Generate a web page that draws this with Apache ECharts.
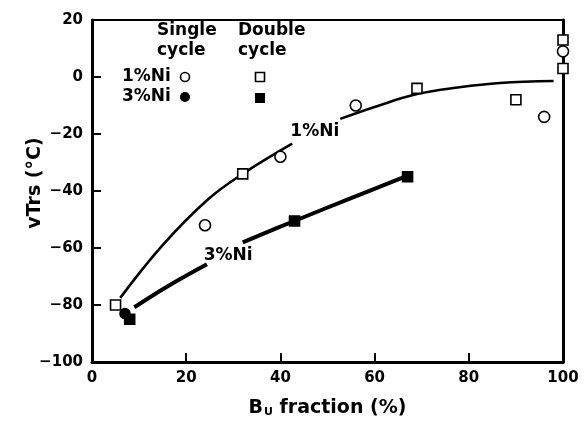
<!DOCTYPE html>
<html>
<head>
<meta charset="utf-8">
<script src="https://cdn.jsdelivr.net/npm/echarts@6/dist/echarts.min.js"></script>
<style>html,body{margin:0;background:#fff}#main{width:585px;height:424px}</style>
</head>
<body>
<div id="main"></div>
<script>
// measured points
var single1 = [[24, -52], [40, -28], [56, -10], [96, -14], [100, 9]];
var double1 = [[5, -80], [32, -34], [69, -4], [90, -8], [100, 13], [100, 3]];
var single3 = [[7, -83]];
var double3 = [[8, -85], [43, -50.5], [67, -35]];

// fitted curves (broken where the labels sit)
var curve1a = [[6, -77.5], [15, -59], [24.6, -43], [32, -34], [42.5, -23.4]];
var curve1b = [[52.7, -14.7], [60, -10.5], [69, -6], [78, -3.6], [86.6, -2.1], [98, -1.4]];
var curve3a = [[9, -80.8], [16, -73.5], [24.4, -65.7]];
var curve3b = [[32, -58], [42.7, -50.7], [55, -42.5], [67, -34.6]];

var curveLabels = [[47.3, -19.2, '1%Ni'], [28.9, -62.6, '3%Ni']];

var xTicks = [0, 20, 40, 60, 80, 100];
var yTicks = [-100, -80, -60, -40, -20, 0, 20];

var FONT = 'DejaVu Sans, sans-serif';
var chart = echarts.init(document.getElementById('main'));

function lineSeries(data, w) {
  return {
    type: 'line', data: data, smooth: 0.4, symbol: 'none', z: 2,
    lineStyle: { color: '#000', width: w }
  };
}
function markSeries(data, symbol, filled, size) {
  return {
    type: 'scatter', data: data, symbol: symbol, symbolSize: size, z: 5,
    itemStyle: { color: filled ? '#000' : '#fff', borderColor: '#000', borderWidth: 1.6, opacity: 1 }
  };
}

var txt = { fontFamily: FONT, fontWeight: 'bold', fontSize: 17, fill: '#000' };

var option = {
  animation: false,
  backgroundColor: '#fff',
  grid: { left: 92, right: 22, top: 20, bottom: 62, outerBoundsMode: 'none',
    show: true, borderColor: '#000', borderWidth: 2 },
  xAxis: {
    type: 'value', min: 0, max: 100, interval: 20,
    name: '{b|B}{s|U}{b| fraction (%)}', nameLocation: 'middle', nameGap: 37,
    nameTextStyle: {
      rich: {
        b: { fontFamily: FONT, fontWeight: 'bold', fontSize: 19, color: '#000' },
        s: { fontFamily: FONT, fontWeight: 'bold', fontSize: 11, color: '#000', verticalAlign: 'bottom', padding: [8, 0, 0, 1] }
      }
    },
    axisLine: { onZero: false, lineStyle: { color: '#000', width: 3 } },
    axisTick: { show: true, inside: true, length: 9, lineStyle: { color: '#000', width: 2 } },
    axisLabel: { margin: 9, fontFamily: FONT, fontWeight: 'bold', fontSize: 15, color: '#000',
      customValues: xTicks },
    splitLine: { show: false }
  },
  yAxis: [{
    type: 'value', min: -100, max: 20, interval: 20,
    axisLine: { onZero: false, lineStyle: { color: '#000', width: 3 } },
    axisTick: { show: true, inside: true, length: 9, lineStyle: { color: '#000', width: 2 } },
    axisLabel: { margin: 9, fontFamily: FONT, fontWeight: 'bold', fontSize: 15, color: '#000',
      customValues: yTicks,
      formatter: function (v) { return v < 0 ? '\u2212' + Math.abs(v) : String(v); } },
    splitLine: { show: false }
  }, {
    type: 'value', min: -100, max: 20, interval: 20, position: 'right',
    axisLine: { show: true, onZero: false, lineStyle: { color: '#000', width: 3 } },
    axisTick: { show: false }, axisLabel: { show: false }, splitLine: { show: false }
  }],
  series: [
    lineSeries(curve1a, 2.6),
    lineSeries(curve1b, 2.6),
    lineSeries(curve3a, 4),
    lineSeries(curve3b, 4),
    markSeries(single1, 'circle', false, 11),
    markSeries(double1, 'rect', false, 10),
    markSeries(single3, 'circle', true, 10),
    markSeries(double3, 'rect', true, 10),
    {
      type: 'scatter', data: curveLabels, symbolSize: 0, z: 4, silent: true,
      itemStyle: { opacity: 1, color: '#000' },
      label: {
        show: true, position: 'inside', opacity: 1,
        formatter: function (p) { return p.data[2]; },
        fontFamily: FONT, fontWeight: 'bold', fontSize: 17, color: '#000'
      }
    }
  ],
  graphic: [
    // y axis title
    { type: 'text', x: 35, y: 183, rotation: Math.PI / 2,
      style: { text: 'vTrs (°C)', fontFamily: FONT, fontWeight: 'bold', fontSize: 19, fill: '#000', align: 'center', verticalAlign: 'middle' } },
    { type: 'text', left: 157, top: 21, style: Object.assign({ text: 'Single\ncycle', lineHeight: 20 }, txt) },
    { type: 'text', left: 238, top: 21, style: Object.assign({ text: 'Double\ncycle', lineHeight: 20 }, txt) },
    { type: 'text', left: 122, top: 68, style: Object.assign({ text: '1%Ni' }, txt) },
    { type: 'text', left: 122, top: 88, style: Object.assign({ text: '3%Ni' }, txt) },
    { type: 'circle', shape: { cx: 185, cy: 77, r: 4.5 }, style: { fill: '#fff', stroke: '#000', lineWidth: 1.6 } },
    { type: 'rect', shape: { x: 255.5, y: 72.5, width: 9, height: 9 }, style: { fill: '#fff', stroke: '#000', lineWidth: 1.6 } },
    { type: 'circle', shape: { cx: 185, cy: 97, r: 5 }, style: { fill: '#000' } },
    { type: 'rect', shape: { x: 255, y: 93, width: 10, height: 10 }, style: { fill: '#000' } }
  ]
};
chart.setOption(option);
</script>
</body>
</html>
